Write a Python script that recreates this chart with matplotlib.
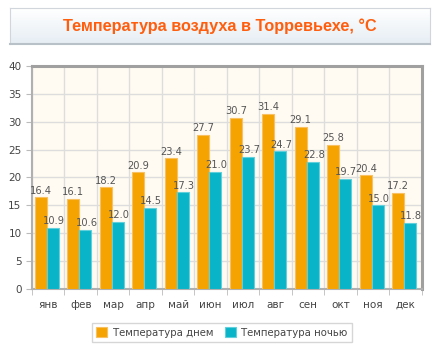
import numpy as np
import matplotlib
matplotlib.use('Agg')
from matplotlib import pyplot as plt

months = ['янв', 'фев', 'мар', 'апр', 'май', 'июн', 'июл', 'авг', 'сен', 'окт', 'ноя', 'дек']
day = [16.4, 16.1, 18.2, 20.9, 23.4, 27.7, 30.7, 31.4, 29.1, 25.8, 20.4, 17.2]
night = [10.9, 10.6, 12.0, 14.5, 17.3, 21.0, 23.7, 24.7, 22.8, 19.7, 15.0, 11.8]
series_names = ['Температура днем', 'Температура ночью']
title = 'Температура воздуха в Торревьехе, °C'

c_day = '#f4a300'
c_night = '#0ab4c8'

fig = plt.figure(figsize=(4.44, 3.51), dpi=100)
fig.patch.set_facecolor('white')

# title box with a light gradient
grad = np.linspace(0, 1, 50).reshape(-1, 1)
tax = fig.add_axes([0.0225, 0.875, 0.946, 0.102])
tax.imshow(grad, aspect='auto', cmap=matplotlib.colors.LinearSegmentedColormap.from_list('g', ['#ffffff', '#e6eef4']),
           extent=[0, 1, 0, 1])
tax.set_xlim(0, 1)
tax.set_ylim(0, 1)
tax.set_xticks([])
tax.set_yticks([])
for s in tax.spines.values():
    s.set_color('#d0d6dc')
tax.spines['bottom'].set_color('#b8c0c8')
tax.spines['bottom'].set_linewidth(1.5)
tax.text(0.5, 0.5, title, ha='center', va='center', fontsize=11.7, fontweight='bold',
         color='#ff5e0e', family='Liberation Sans')

ax = fig.add_axes([0.072, 0.177, 0.878, 0.635])
ax.set_facecolor('#fffbf2')
x = np.arange(len(months))
w = 0.37
b1 = ax.bar(x - w / 2 - 0.04, day, w, color=c_day, edgecolor='#f8c060', linewidth=0.8, zorder=3)
b2 = ax.bar(x + w / 2 - 0.04, night, w, color=c_night, edgecolor='#60d0dc', linewidth=0.8, zorder=3)
for i in range(len(months)):
    ax.text(x[i] - w / 2 - 0.04, day[i] + 0.3, '%.1f' % day[i], ha='center', va='bottom',
            fontsize=7.1, color='#555555', zorder=4)
    ax.text(x[i] + w / 2 - 0.01, night[i] + 0.3, '%.1f' % night[i], ha='center', va='bottom',
            fontsize=7.1, color='#555555', zorder=4)

ax.set_xlim(-0.5, len(months) - 0.5)
ax.set_ylim(0, 40)
ax.set_yticks(range(0, 41, 5))
ax.set_xticks(x)
ax.set_xticklabels(months)
ax.set_xticks(np.arange(-0.5, len(months), 1), minor=True)
ax.tick_params(axis='x', which='major', length=0, labelsize=7.5, colors='#444444', pad=8)
ax.tick_params(axis='x', which='minor', length=4, color='#bbbbbb')
ax.tick_params(axis='y', length=4, color='#bbbbbb', labelsize=7.5, labelcolor='#444444')
ax.grid(True, which='minor', axis='x', color='#dddddd', linewidth=1, zorder=0)
ax.grid(True, which='major', axis='y', color='#dddddd', linewidth=1, zorder=0)
ax.grid(False, which='major', axis='x')
for side in ['left', 'bottom']:
    ax.spines[side].set_color('#b0b0b0')
    ax.spines[side].set_linewidth(1.5)
for side in ['top', 'right']:
    ax.spines[side].set_color('#a0a0a0')
    ax.spines[side].set_linewidth(2.2)

leg = fig.legend([b1, b2], series_names, loc='center', bbox_to_anchor=(0.5, 0.053), ncol=2,
                 fontsize=7.3, frameon=True, fancybox=False, edgecolor='#cccccc',
                 handlelength=1.1, handleheight=1.1, columnspacing=1.2, handletextpad=0.5,
                 borderpad=0.4)
for t in leg.get_texts():
    t.set_color('#444444')

fig.savefig('out.png', dpi=100)
